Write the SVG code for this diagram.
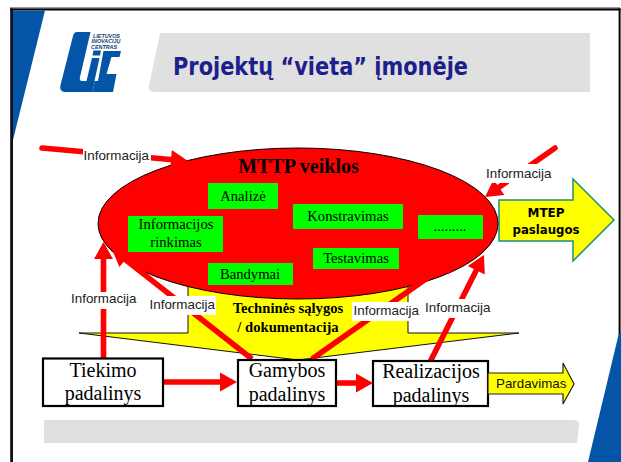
<svg xmlns="http://www.w3.org/2000/svg" width="621" height="462" viewBox="0 0 621 462">
<style>
.ser{font-family:"Liberation Serif","Times New Roman",serif;fill:#000;text-anchor:middle}
.b14{font-size:14.67px}
.bold{font-weight:bold}
.n20{font-size:20px}
.info{font-family:"Liberation Sans",Arial,sans-serif;font-size:13.4px;fill:#222}
.lg{font-family:"Liberation Sans",Arial,sans-serif;font-size:5.4px;font-weight:bold;font-style:italic;fill:#123a6e}
.box{fill:#fff;stroke:#000;stroke-width:2.2}
.green{fill:#0f0}
.w{fill:#fff}
.blue{fill:#0455a8}
.gray{fill:#e0e0e0}
.arr{fill:none;stroke:#f00;stroke-width:5.6;stroke-linecap:butt;marker-end:url(#head)}
.rnd{stroke-linecap:round}
</style>
<defs>
<marker id="head" markerUnits="userSpaceOnUse" markerWidth="17" markerHeight="19" refX="2" refY="9.5" orient="auto" overflow="visible">
<path d="M0,0L17,9.5L0,19z" fill="#f00"/>
</marker>
</defs>
<rect width="621" height="462" fill="#fff"/>
<g id="frame">
<rect x="10" y="7" width="610" height="1.4" fill="#999"/>
<rect x="10" y="8.4" width="610.5" height="2.1" fill="#000"/>
<rect x="10.2" y="8.4" width="2.8" height="453.6" fill="#111"/>
<rect x="618.6" y="8.4" width="2" height="330" fill="#000"/>
<polygon class="blue" points="13,10.5 45,10.5 13,140"/>
<polygon class="blue" points="618.5,335 621,332 621,462 588,462"/>
</g>
<g id="logo">
<path class="blue" d="M77,32H90.500L80,77Q79,81 82,81H95L92.500,92H65Q59,92 60.500,85L73,36Q74,32 77,32Z"/>
<path class="blue" d="M92,58H99.500L94.500,81H86.500Z"/>
<path class="blue" d="M93.500,50.500H101L100,55.500H92.500Z"/>
<path class="blue" d="M103.500,51H121L119.500,57H111.500L106.500,74H116.500L113,92H92.500L95,81H98Z"/>
<text class="lg" x="93" y="37.500">LIETUVOS</text>
<text class="lg" x="91.500" y="43">INOVACIJŲ</text>
<text class="lg" x="91" y="48.500">CENTRAS</text>
</g>
<g id="title">
<path class="gray" d="M160,33H590V92H154Q148,92 149,86Z"/>
<text x="173" y="75" font-family="'DejaVu Sans',sans-serif" font-weight="bold" font-size="24" fill="#1e1e8c" textLength="295" lengthAdjust="spacingAndGlyphs">Projektų “vieta” įmonėje</text>
</g>
<path id="footer" class="gray" d="M44,420H574Q580,420 579,426L577,443H44Z"/>
<g id="dokumentacija">
<polygon points="188,200 408,200 408,333 519,333 298,360 79,333 188,333" fill="#ff0" stroke="#111" stroke-width="1"/>
<text class="ser b14 bold" x="288" y="313">Techninės sąlygos</text>
<text class="ser b14 bold" x="288" y="332">/ dokumentacija</text>
</g>
<g id="mtep">
<polygon points="499,200 573,200 573,179 614,220 573,261 573,241 499,241" fill="#ff0" stroke="#1a8f78" stroke-width="1.5"/>
<text x="546" y="217" font-family="'DejaVu Sans',sans-serif" font-weight="bold" font-size="11.500" text-anchor="middle" textLength="37" lengthAdjust="spacingAndGlyphs">MTEP</text>
<text x="546" y="234" font-family="'DejaVu Sans',sans-serif" font-weight="bold" font-size="11.500" text-anchor="middle" textLength="67" lengthAdjust="spacingAndGlyphs">paslaugos</text>
</g>
<g id="mttp">
<ellipse cx="298" cy="223.500" rx="200" ry="75.500" fill="#f00" stroke="#000" stroke-width="1"/>
<text class="ser n20 bold" x="298.500" y="173">MTTP veiklos</text>
</g>
<g id="analize"><rect class="green" x="208" y="183" width="70" height="26"/><text class="ser b14" x="243" y="201">Analizė</text></g>
<g id="rinkimas"><rect class="green" x="128" y="216" width="95" height="36"/><text class="ser b14" x="176" y="229">Informacijos</text><text class="ser b14" x="176" y="247">rinkimas</text></g>
<g id="bandymai"><rect class="green" x="208" y="263" width="85" height="22"/><text class="ser b14" x="250" y="279">Bandymai</text></g>
<g id="konstravimas"><rect class="green" x="293" y="204" width="110" height="25"/><text class="ser b14" x="348" y="221">Konstravimas</text></g>
<g id="testavimas"><rect class="green" x="313" y="248" width="86" height="21"/><text class="ser b14" x="356" y="263">Testavimas</text></g>
<g id="dots"><rect class="green" x="418" y="215" width="65" height="24"/><text class="ser b14" x="450" y="231">.........</text></g>
<g id="connectors">
<path class="arr rnd" d="M42,148L173,159.700"/>
<path class="arr" d="M103.500,358V257"/>
<path class="arr" d="M252,359L123.700,258.400"/>
<path class="arr" d="M312,359L444.700,265.600"/>
<path class="arr" d="M430,362L477.200,268.400"/>
<path class="arr rnd" d="M555,148L497.300,188.400"/>
<path class="arr rnd" d="M162,382H222"/>
<path class="arr" d="M336,383H358"/>
</g>
<g id="labels">
<rect class="w" x="83" y="147" width="68" height="18"/><text class="info" x="83.500" y="159.500">Informacija</text>
<rect class="w" x="70" y="292" width="68" height="17"/><text class="info" x="71" y="303">Informacija</text>
<rect class="w" x="149" y="296" width="67" height="19"/><text class="info" x="149.500" y="309">Informacija</text>
<rect class="w" x="352" y="302" width="68" height="19"/><text class="info" x="353.500" y="315">Informacija</text>
<rect class="w" x="424" y="299" width="67" height="19"/><text class="info" x="425" y="312">Informacija</text>
<rect class="w" x="485" y="164" width="68" height="19"/><text class="info" x="486" y="178">Informacija</text>
</g>
<g id="tiekimo"><rect class="box" x="43" y="358.500" width="120" height="47.500"/><text class="ser n20" x="103" y="377">Tiekimo</text><text class="ser n20" x="103" y="400">padalinys</text></g>
<g id="gamybos"><rect class="box" x="238" y="360" width="98" height="46"/><text class="ser n20" x="287" y="377">Gamybos</text><text class="ser n20" x="287" y="401">padalinys</text></g>
<g id="realizacijos"><rect class="box" x="373" y="361" width="115" height="45"/><text class="ser n20" x="431" y="378">Realizacijos</text><text class="ser n20" x="431" y="402">padalinys</text></g>
<g id="pardavimas">
<polygon points="488,373 563,373 563,363 574,384 563,404 563,394 488,394" fill="#ff0" stroke="#222" stroke-width="1.200"/>
<text x="496" y="388" font-family="'Liberation Sans',Arial,sans-serif" font-size="13.330" fill="#111">Pardavimas</text>
</g>
</svg>
